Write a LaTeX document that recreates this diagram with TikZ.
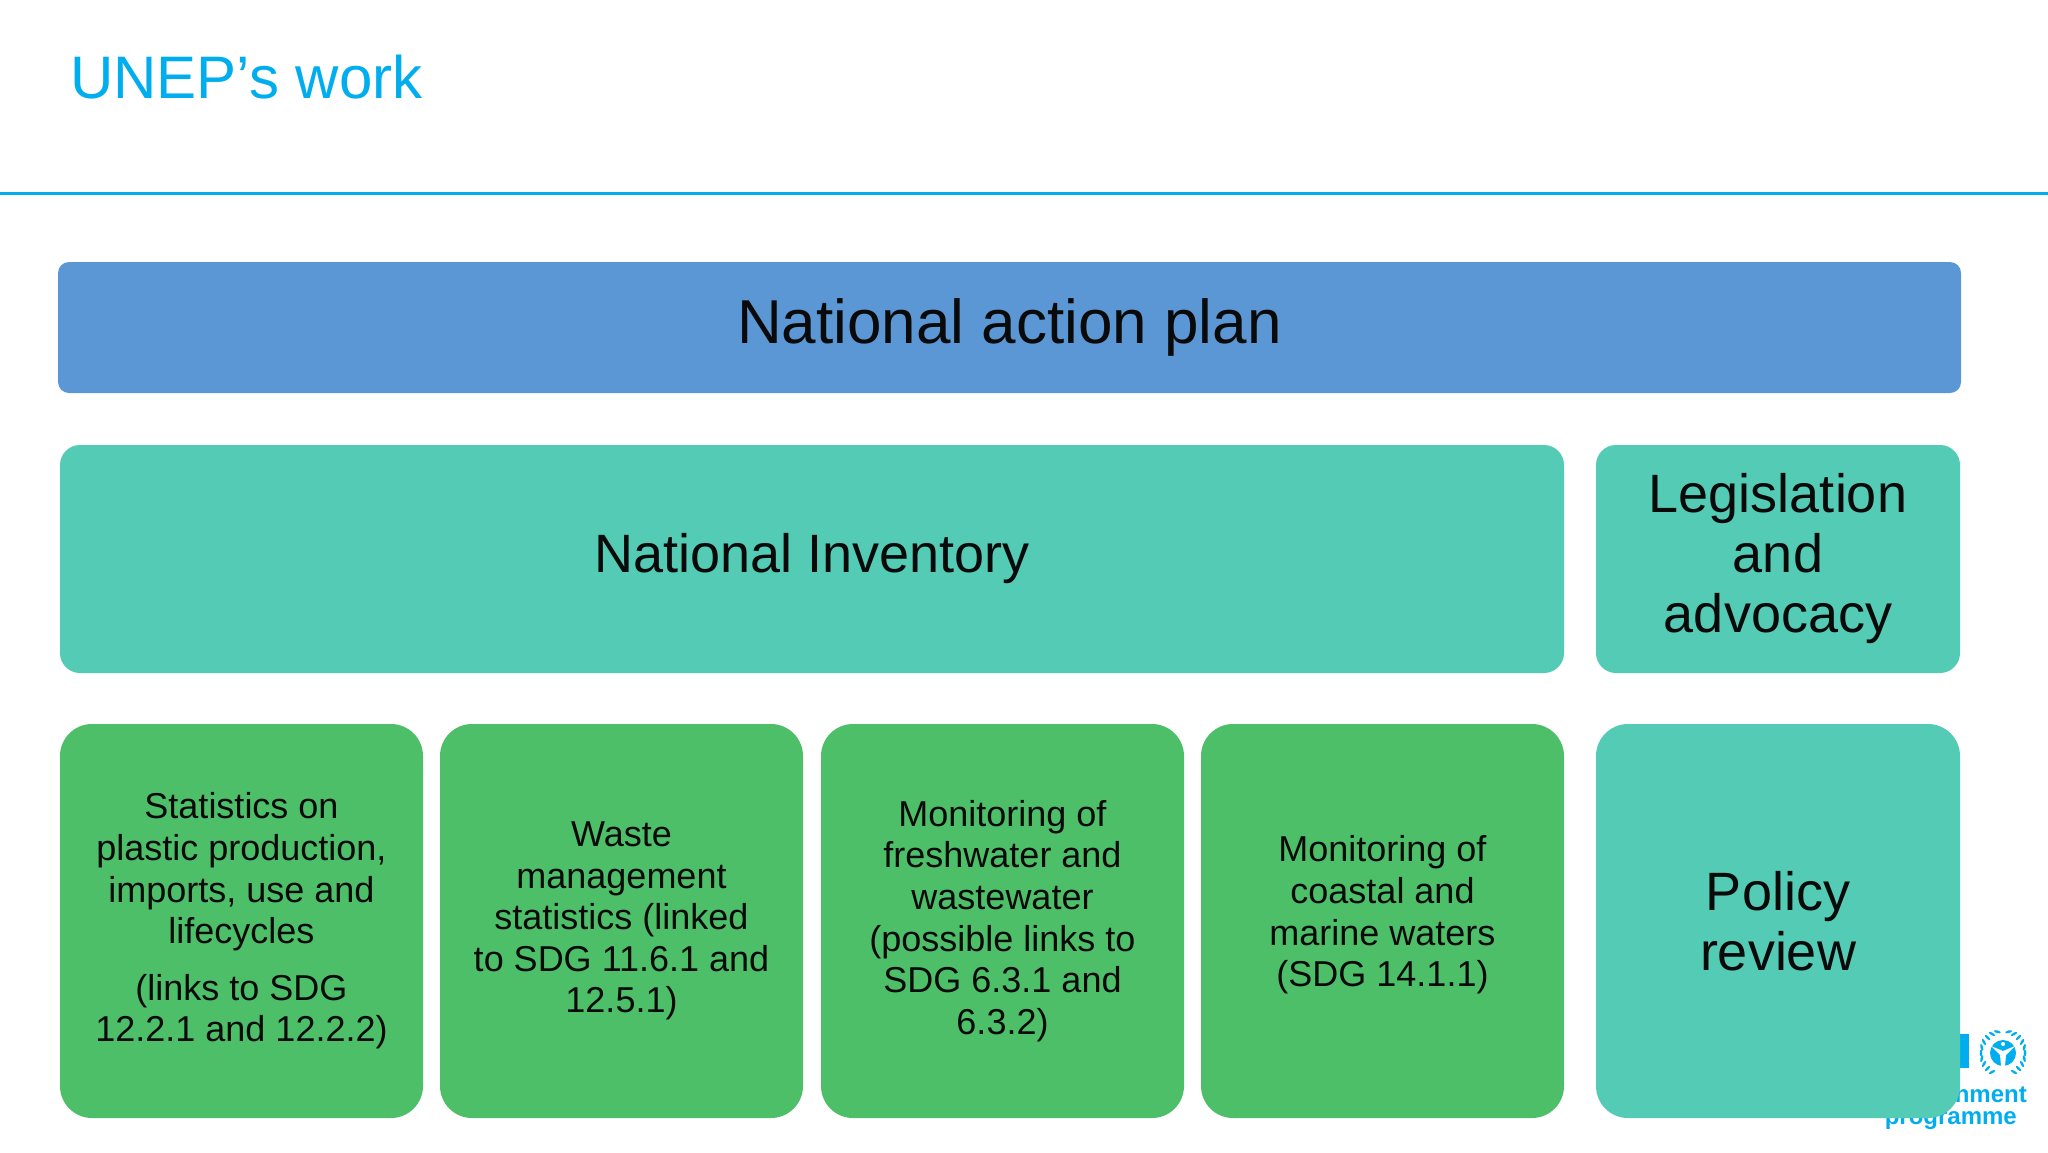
\documentclass[tikz,border=0pt]{standalone}
\usepackage{fontspec}
\setmainfont{Liberation Sans}
\usetikzlibrary{positioning,shapes.geometric,calc}

\definecolor{unepblue}{HTML}{00AEEF}
\definecolor{planblue}{HTML}{5B97D5}
\definecolor{invteal}{HTML}{53CBB5}
\definecolor{statgreen}{HTML}{4DBF68}
\definecolor{boxtext}{HTML}{0A0A0A}

\tikzset{
  box/.style={inner sep=0pt, outer sep=0pt, align=center, text=boxtext, anchor=north west},
  planbox/.style={box, fill=planblue, rounded corners=11pt, minimum width=1903pt, minimum height=131pt,
    font=\fontsize{62}{66}\selectfont},
  tealbox/.style={box, fill=invteal, rounded corners=20pt, minimum height=228pt,
    font=\fontsize{54}{60}\selectfont},
  statbox/.style={box, fill=statgreen, rounded corners=32pt, minimum width=363pt, minimum height=394pt,
    font=\fontsize{36}{41.6}\selectfont},
  logotext/.style={inner sep=0pt, anchor=base east, text=unepblue, font=\bfseries\fontsize{24}{24}\selectfont},
  leaf/.style={ellipse, fill=unepblue, minimum width=7pt, minimum height=2.6pt, inner sep=0pt}
}

\begin{document}
\begin{tikzpicture}[x=1pt,y=-1pt]
\useasboundingbox[fill=white] (0,0) rectangle (2048,1152);

\node[inner sep=0pt, anchor=base west, text=unepblue, font=\fontsize{60}{60}\selectfont] (title) at (70,98) {UNEP’s work};
\coordinate (ruleL) at (0,193);
\coordinate (ruleR) at (2048,193);
\draw[unepblue, line width=3pt] (ruleL) -- (ruleR);

% logo behind the last box
\node[fill=unepblue, inner sep=0pt, minimum width=9pt, minimum height=34pt, anchor=north west] (unbar) at (1960,1034) {};
\node[logotext] (envname) at (2027,1102) {Environment};
\node[logotext] (progname) at (2017,1124) {programme};
\node[circle, fill=unepblue, inner sep=0pt, minimum size=26pt] (emblem) at (2003,1053) {};
\fill[white] (emblem.center) ++(0,-9) circle (2pt);
\fill[white] (emblem.center) ++(-12,-7) -- ++(12,5) -- ++(12,-5) -- ++(-9,9) -- ++(-1,11) -- ++(-2,2) -- ++(-2,-2) -- ++(-1,-11) -- cycle;
\foreach \a in {-75,-60,...,60} {
  \node[leaf, rotate=\a+90] at ($(2003,1053)+(\a:22)$) {};
  \node[leaf, rotate=90-\a] at ($(2003,1053)+(180-\a:22)$) {};
}

\node[planbox] (plan) at (58,262) {National action plan};

\node[tealbox, minimum width=1504pt] (inventory) at (60,445) {National Inventory};
\node[tealbox, minimum width=364pt, right=32pt of inventory.north east, anchor=north west] (legislation) {Legislation\\and\\advocacy};

\node[statbox] (production) at (60,724) {Statistics on\\plastic production,\\imports, use and\\lifecycles\\[15pt](links to SDG\\12.2.1 and 12.2.2)};
\node[statbox, right=17pt of production.north east, anchor=north west] (waste) {Waste\\management\\statistics (linked\\to SDG 11.6.1 and\\12.5.1)};
\node[statbox, right=18pt of waste.north east, anchor=north west] (freshwater) {Monitoring of\\freshwater and\\wastewater\\(possible links to\\SDG 6.3.1 and\\6.3.2)};
\node[statbox, right=17pt of freshwater.north east, anchor=north west] (coastal) {Monitoring of\\coastal and\\marine waters\\(SDG 14.1.1)\\[-22pt]\mbox{}};
\node[tealbox, rounded corners=32pt, minimum width=364pt, minimum height=394pt, right=32pt of coastal.north east, anchor=north west] (policy) {Policy\\review};
\end{tikzpicture}
\end{document}
